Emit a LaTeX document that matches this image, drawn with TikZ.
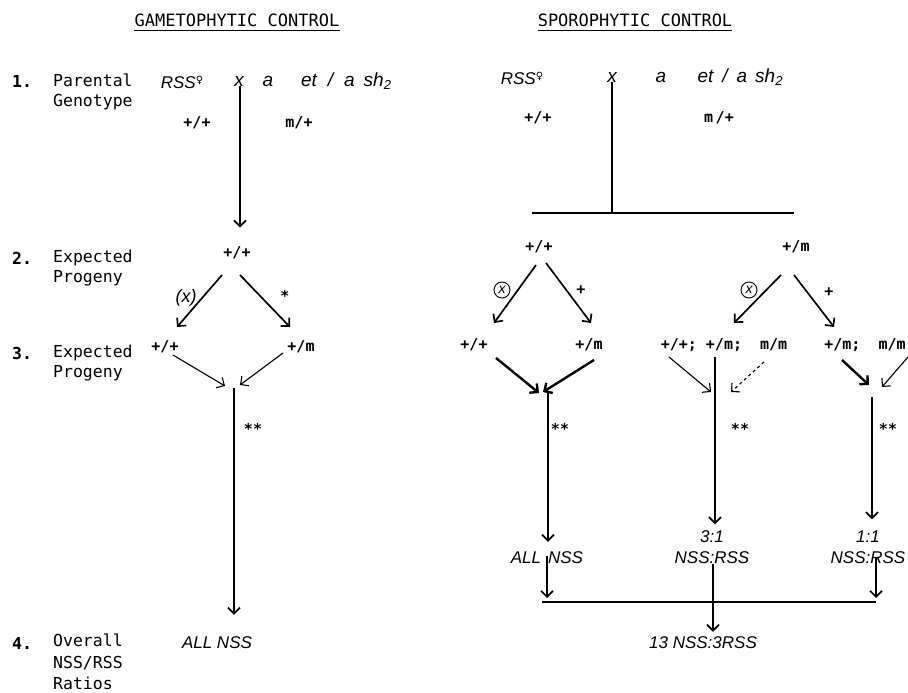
\documentclass[tikz,border=0pt]{standalone}
\usepackage{fontspec}
\setmainfont{Liberation Sans}
\setmonofont{DejaVu Sans Mono}
\newfontfamily\symf{DejaVu Sans}
\usetikzlibrary{arrows.meta,calc}
\newcommand{\fem}{{\symf\fontsize{10}{10}\selectfont\raisebox{5pt}{♀}}}
\newcommand{\shtwo}{sh\raisebox{-3pt}{\fontsize{13}{13}\selectfont 2}}
\begin{document}
\begin{tikzpicture}[x=1pt,y=-1pt,
  ttl/.style={font=\ttfamily\fontsize{17}{19}\selectfont, inner sep=0pt},
  rowlab/.style={font=\ttfamily\fontsize{16.5}{20}\selectfont, align=left, anchor=north west, inner sep=0pt},
  num/.style={font=\ttfamily\bfseries\fontsize{16.5}{20}\selectfont, anchor=base west, inner sep=0pt},
  hw/.style={font=\itshape\fontsize{17}{21}\selectfont, inner sep=0pt, align=center},
  hwl/.style={font=\itshape\fontsize{19}{21}\selectfont, inner sep=0pt},
  gt/.style={font=\ttfamily\bfseries\fontsize{15}{17}\selectfont, inner sep=0pt},
  mk/.style={font=\ttfamily\bfseries\fontsize{15}{15}\selectfont, inner sep=0pt},
  cx/.style={circle, draw, line width=0.9pt, inner sep=0pt, minimum size=16pt, font=\itshape\fontsize{14}{14}\selectfont},
  ln/.style={line width=1.7pt},
  arr/.style={ln, -{Straight Barb[length=6pt,width=12pt]}},
  tarr/.style={line width=1.1pt, -{Straight Barb[length=6pt,width=12pt]}},
  barr/.style={line width=2.4pt, -{Straight Barb[length=6pt,width=12pt]}},
  uline/.style={line width=1.4pt},
]
\useasboundingbox[fill=white] (0,0) rectangle (908,693);

% ---------- row labels ----------
\node[num] (n1) at (12,88) {1.};
\node[rowlab] (r1) at (53,74) {Parental\\Genotype};
\node[num] (n2) at (12,264) {2.};
\node[rowlab] (r2) at (53,250) {Expected\\Progeny};
\node[num] (n3) at (12,359) {3.};
\node[rowlab] (r3) at (53,345) {Expected\\Progeny};
\node[num] (n4) at (12,649) {4.};
\node[rowlab, font=\ttfamily\fontsize{16.5}{21.5}\selectfont] (r4) at (53,634) {Overall\\NSS/RSS\\Ratios};

% ---------- gametophytic ----------
\node[ttl] (tG) at (237,20) {GAMETOPHYTIC CONTROL};
\draw[uline] ([yshift=-4pt]tG.south west) -- ([yshift=-4pt]tG.south east);

\node[hw] (gP1) at (182,82) {RSS\fem};
\node[hwl] (gX) at (239,81) {x};
\node[hwl] (gA) at (268,81) {a};
\node[hwl] (gP2) at (346,81) {et\hspace{11pt}/\hspace{11pt}a\hspace{9pt}\shtwo};
\node[gt] (gG1) at (197,123) {+/+};
\node[gt] (gG2) at (299,123) {m/+};

\node[gt] (gL2) at (237,253) {+/+};
\draw[arr] ($(gX.south)+(1,0)$) -- ($(gX.south |- gL2.north)+(1,-19)$);

\node[gt] (gL3a) at (165,347) {+/+};
\node[gt] (gL3b) at (301,347) {+/m};
\draw[arr] ($(gL2)+(-15,22)$) -- ($(gL2)+(-60,74)$);
\draw[arr] ($(gL2)+(3,22)$) -- ($(gL2)+(53,74)$);
\node[hw, font=\itshape\fontsize{18}{18}\selectfont] (gSelf) at (186,298) {(x)};
\node[mk] (gStar) at (285,296) {*};

\coordinate (gM) at (234,388);
\draw[tarr] ($(gL3a)+(8,8)$) -- ($(gM)+(-9,-2)$);
\draw[tarr] ($(gL3b)+(-18,6)$) -- ($(gM)+(6,-3)$);
\node[hw] (gR) at (217,643) {ALL NSS};
\draw[arr] (gM) -- ($(gM |- gR.north)+(0,-22)$);
\node[mk] (gSS) at (253,429) {**};

% ---------- sporophytic ----------
\node[ttl] (tS) at (635,20) {SPOROPHYTIC CONTROL};
\draw[uline] ([yshift=-4pt]tS.south west) -- ([yshift=-4pt]tS.south east);

\node[hw] (sP1) at (522,78) {RSS\fem};
\node[hwl] (sX) at (612,77) {x};
\node[hwl] (sA) at (661,77) {a};
\node[hwl] (sP2) at (740,77) {et\hspace{9pt}/\hspace{9pt}a\hspace{8pt}\shtwo};
\node[gt] (sG1) at (538,118) {+/+};
\node[gt] (sG2) at (719,118) {m\,/+};

\coordinate (sBar) at (612,213);
\coordinate (sBarL) at (532,213);
\coordinate (sBarR) at (794,213);
\draw[ln] (sX.south) -- (sBar);
\draw[ln] (sBarL) -- (sBarR);

\node[gt] (sA2) at (539,247) {+/+};
\node[gt] (sB2) at (796,247) {+/m};

\draw[arr] ($(sA2)+(-3,18)$) -- ($(sA2)+(-45,76)$);
\draw[arr] ($(sA2)+(7,16)$) -- ($(sA2)+(52,76)$);
\node[cx] (sC1) at (502,290) {x};
\node[mk] (sPl1) at (581,290) {+};

\node[gt] (sA3a) at (474,345) {+/+};
\node[gt] (sA3b) at (589,345) {+/m};
\coordinate (sAM) at (548,393);
\draw[barr] ($(sA3a)+(22,13)$) -- ($(sAM)+(-9,0)$);
\draw[barr] ($(sA3b)+(5,15)$) -- ($(sAM)+(-5,-1)$);
\node[hw] (sAR) at (547,558) {ALL\hspace{7pt}NSS};
\draw[arr] (sAM) -- ($(sAM |- sAR.north)+(0,-10)$);
\node[mk] (sSS1) at (560,429) {**};

\draw[arr] ($(sB2)+(-15,28)$) -- ($(sB2)+(-62,76)$);
\draw[arr] ($(sB2)+(-2,28)$) -- ($(sB2)+(38,80)$);
\node[cx] (sC2) at (749,290) {x};
\node[mk] (sPl2) at (829,292) {+};

\node[gt] (sB3) at (724,345) {+/+;\ +/m;\ \ m/m};
\coordinate (sBM) at (715,392);
\node[hw] (s31) at (712,547) {3:1\\NSS:RSS};
\draw[tarr] ($(sB3)+(-55,12)$) -- ($(sBM)+(-4,0)$);
\draw[arr] ($(sB3)+(-9,12)$) -- ($(sBM |- s31.north)+(0,-6)$);
\draw[tarr, dashed] ($(sB3)+(40,17)$) -- ($(sBM)+(16,0)$);
\node[mk] (sSS2) at (740,429) {**};

\node[gt] (sC3) at (865,345) {+/m;\ \ m/m};
\coordinate (sCM) at (872,390);
\node[hw] (s11) at (868,547) {1:1\\NSS:RSS};
\draw[barr] ($(sC3)+(-23,15)$) -- ($(sCM)+(-3,-5)$);
\draw[tarr] ($(sC3)+(43,12)$) -- ($(sCM)+(10,-3)$);
\draw[arr] ($(sCM)+(0,7)$) -- ($(sCM |- s11.north)+(0,-11)$);
\node[mk] (sSS3) at (888,429) {**};

% ---------- bottom merge ----------
\coordinate (hL) at (542,602);
\coordinate (hR) at (876,602);
\draw[ln] (hL) -- (hR);
\node[hw] (sF) at (703,643) {13 NSS:3RSS};
\draw[arr] ($(sAR)+(0,-2)$) -- ($(sAR |- hL)+(0,-4)$);
\draw[arr] ($(s11.south)+(8,-6)$) -- ($(hR)+(0,-4)$);
\draw[arr] ($(s31.south)+(1,0)$) -- ($(sF.north)+(10,-5)$);
\end{tikzpicture}
\end{document}
